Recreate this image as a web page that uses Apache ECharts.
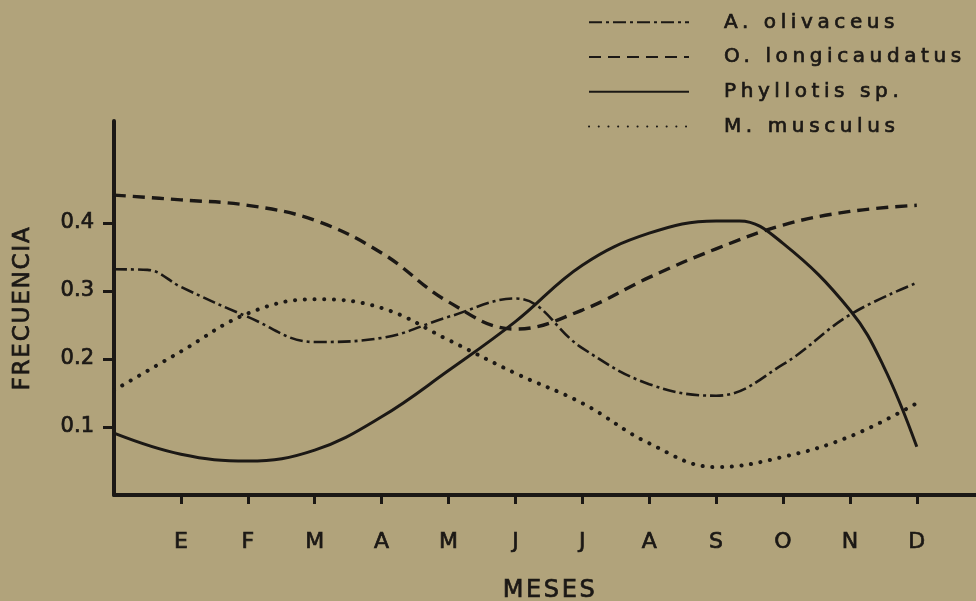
<!DOCTYPE html>
<html>
<head>
<meta charset="utf-8">
<script src="https://cdn.jsdelivr.net/npm/echarts@6/dist/echarts.min.js"></script>
<style>
html,body{margin:0;padding:0;background:#b1a37b;}
#main{width:976px;height:601px;}
</style>
</head>
<body>
<div id="main"></div>
<script>
// ---- data ----
const monthLabels = ['E','F','M','A','M','J','J','A','S','O','N','D'];
const monthPos = [1,2,3,4,5,6,7,8,9,10,11,12];
const yTickValues = [0.1,0.2,0.3,0.4];
const seriesNames = ['A. olivaceus','O. longicaudatus','Phyllotis sp.','M. musculus'];

const olivaceusX = [0, 0.5, 1, 2, 3, 4, 5, 6, 7, 8, 9, 10, 11, 12];
const olivaceusY = [0.332, 0.331, 0.306, 0.262, 0.225, 0.231, 0.262, 0.289, 0.216, 0.163, 0.146, 0.192, 0.265, 0.312];

const longicaudatusX = [0, 1, 2, 3, 4, 5, 6, 7, 8, 9, 10, 11, 12];
const longicaudatusY = [0.441, 0.434, 0.426, 0.404, 0.356, 0.284, 0.244, 0.272, 0.320, 0.362, 0.397, 0.417, 0.426];

const phyllotisX = [0, 1, 2, 3, 4, 5, 6, 7, 8, 9, 9.35, 10, 11, 11.5, 12];
const phyllotisY = [0.091, 0.060, 0.050, 0.066, 0.115, 0.183, 0.255, 0.338, 0.385, 0.403, 0.403, 0.370, 0.272, 0.190, 0.071];

const musculusX = [0, 1, 2, 3, 4, 5, 6, 7, 8, 9, 10, 11, 12];
const musculusY = [0.154, 0.211, 0.267, 0.288, 0.275, 0.228, 0.179, 0.135, 0.076, 0.041, 0.056, 0.086, 0.135];

// ---- letter spacing for the stencil-like lettering (by font size) ----
const spacingBySize = {20: 4.6, 23: 1.8, 24: 2.6};
(function(){
  const proto = CanvasRenderingContext2D.prototype;
  function wrap(name){
    const orig = proto[name];
    proto[name] = function(t, x, y, w){
      const m = /(\d+(?:\.\d+)?)px/.exec(this.font);
      const s = m ? (spacingBySize[Math.round(parseFloat(m[1]))] || 0) : 0;
      if ('letterSpacing' in this) this.letterSpacing = s + 'px';
      return w === undefined ? orig.call(this, t, x, y) : orig.call(this, t, x, y, w);
    };
  }
  wrap('fillText'); wrap('strokeText');
})();

function pairs(xs, ys){ return xs.map((x,i)=>[x, ys[i]]); }

const ink = '#1b1815';
const fontFam = 'DejaVu Sans';
const txt = (size) => ({color: ink, fontSize: size, fontFamily: fontFam, textBorderColor: ink, textBorderWidth: 0.7});

const chart = echarts.init(document.getElementById('main'), null, {renderer:'canvas'});
chart.setOption({
  backgroundColor: '#b1a37b',
  animation: false,
  color: [ink, ink, ink, ink],
  grid: {left: 114, right: 0, top: 121, bottom: 106, containLabel: false, outerBoundsMode: 'none'},
  legend: {
    orient: 'vertical',
    left: 588, top: 12, padding: 0,
    itemWidth: 100, itemHeight: 14, itemGap: 14,
    data: seriesNames,
    itemStyle: {opacity: 0},
    textStyle: Object.assign(txt(20), {lineHeight: 20, padding: [0,0,0,30]})
  },
  xAxis: {
    type: 'value', min: 0, max: 12.885,
    name: 'MESES', nameLocation: 'middle', nameGap: 84,
    nameTextStyle: Object.assign(txt(24), {padding: [0,0,0,10]}),
    axisLine: {show: true, lineStyle: {color: ink, width: 4}},
    axisTick: {show: true, inside: false, length: 9, customValues: monthPos, lineStyle: {color: ink, width: 3}},
    axisLabel: Object.assign(txt(22), {show: true, margin: 36, customValues: monthPos,
      formatter: v => { const i = monthPos.indexOf(Math.round(v)); return i >= 0 ? monthLabels[i] : ''; }}),
    splitLine: {show: false}
  },
  yAxis: {
    type: 'value', min: 0, max: 0.55,
    name: 'FRECUENCIA', nameLocation: 'middle', nameGap: 79, nameRotate: 90,
    nameTextStyle: txt(23),
    axisLine: {show: true, lineStyle: {color: ink, width: 4, cap: 'round'}},
    axisTick: {show: true, length: 11, customValues: yTickValues, lineStyle: {color: ink, width: 3}},
    axisLabel: Object.assign(txt(21), {show: true, margin: 20, customValues: yTickValues,
      formatter: v => v.toFixed(1)}),
    splitLine: {show: false}
  },
  series: [
    {name: seriesNames[0], type: 'line', data: pairs(olivaceusX, olivaceusY), smooth: 0.4, symbol: 'none', showSymbol: false,
     itemStyle: {color: ink}, lineStyle: {color: ink, width: 2.6, type: [13,4,3,4]}},
    {name: seriesNames[1], type: 'line', data: pairs(longicaudatusX, longicaudatusY), smooth: 0.4, symbol: 'none', showSymbol: false,
     itemStyle: {color: ink}, lineStyle: {color: ink, width: 3.4, type: [12,7]}},
    {name: seriesNames[2], type: 'line', data: pairs(phyllotisX, phyllotisY), smooth: 0.4, symbol: 'none', showSymbol: false,
     itemStyle: {color: ink}, lineStyle: {color: ink, width: 3}},
    {name: seriesNames[3], type: 'line', data: pairs(musculusX, musculusY), smooth: 0.4, symbol: 'none', showSymbol: false,
     itemStyle: {color: ink}, lineStyle: {color: ink, width: 4, type: [0.1, 9.6], cap: 'round'}}
  ]
});
</script>
</body>
</html>
